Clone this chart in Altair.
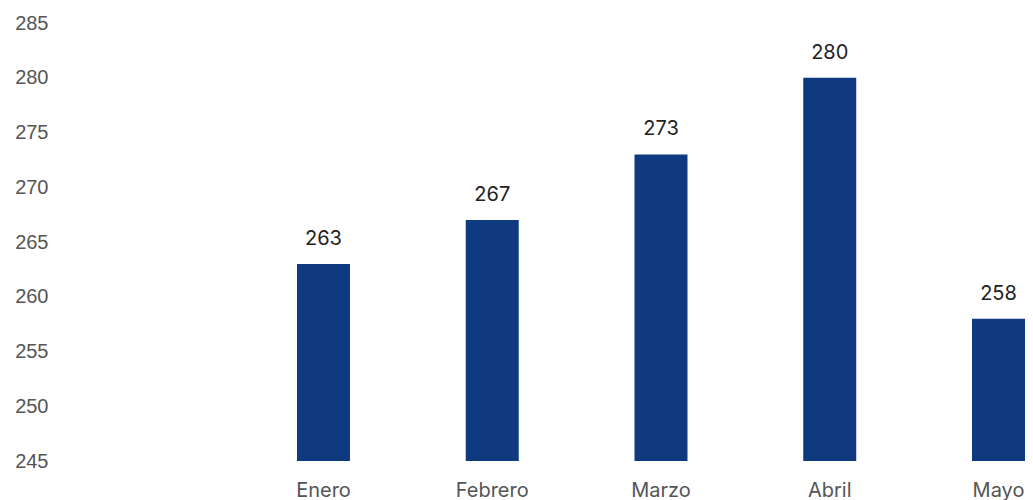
import altair as alt
import pandas as pd

months = ["Enero", "Febrero", "Marzo", "Abril", "Mayo"]
values = [263, 267, 273, 280, 258]
y_ticks = [245, 250, 255, 260, 265, 270, 275, 280, 285]

df = pd.DataFrame({"mes": months, "valor": values})

x = alt.X("mes:N", sort=months,
          scale=alt.Scale(paddingInner=0.686, paddingOuter=0.714, align=1, round=False),
          axis=alt.Axis(title=None, labelAngle=0, ticks=False, domain=False, grid=False,
                        labelPadding=19, labelFontSize=20, labelFont="Inter",
                        labelColor="#555555"))
y = alt.Y("valor:Q",
          scale=alt.Scale(domain=[245, 285], zero=False, nice=False),
          axis=alt.Axis(title=None, values=y_ticks, ticks=False, domain=False, grid=False,
                        labelPadding=8, labelFontSize=20, labelFont="Liberation Sans",
                        labelColor="#555555"))

bars = alt.Chart(df).mark_bar(color="#0f3a80").encode(x=x, y=y, y2=alt.datum(245))
labels = alt.Chart(df).mark_text(baseline="alphabetic", dy=-19, fontSize=20,
                                 font="Inter", color="#222222").encode(
    x=alt.X("mes:N", sort=months), y="valor:Q", text="valor:Q")

chart = (bars + labels).properties(
    width=969, height=438,
    background="#ffffff",
    autosize=alt.AutoSizeParams(type="none"),
    padding={"left": 48, "top": 15, "right": 0, "bottom": 39},
).configure_view(strokeWidth=0, stroke="transparent")

chart.save("out.html", embed_options={"renderer": "svg", "actions": False})
